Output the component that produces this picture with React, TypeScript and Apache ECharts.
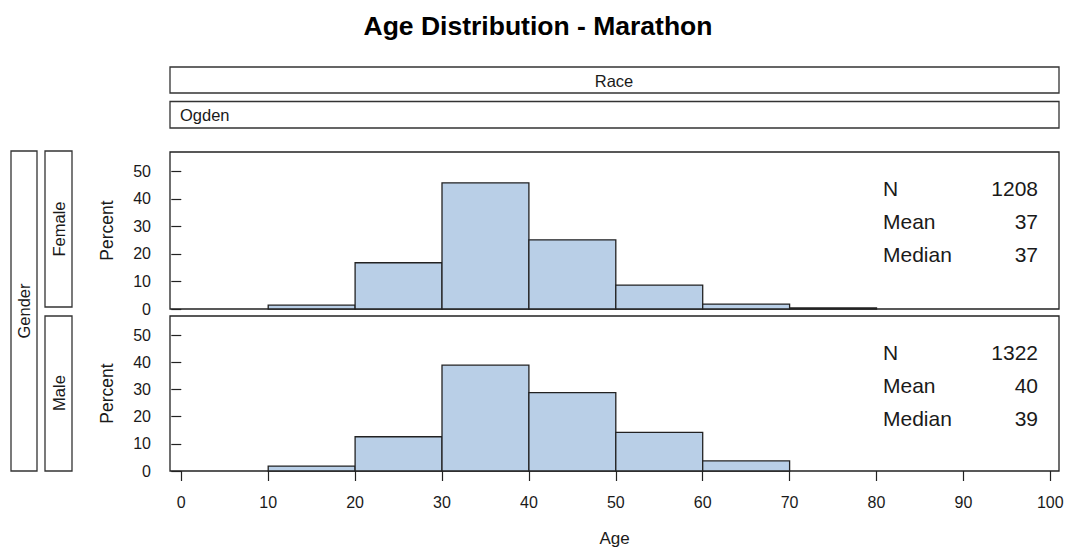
import React, { useEffect, useRef } from "react";
import * as echarts from "echarts";

const binStarts = [10, 20, 30, 40, 50, 60, 70];
const binEnds = [20, 30, 40, 50, 60, 70, 80];
const femalePercent = [1.4, 16.8, 45.8, 25.1, 8.7, 1.8, 0.4];
const malePercent = [1.8, 12.6, 38.9, 28.8, 14.2, 3.7, 0];
const xTicks = [0, 10, 20, 30, 40, 50, 60, 70, 80, 90, 100];
const yTicks = [0, 10, 20, 30, 40, 50];
const statLabels = ["N", "Mean", "Median"];
const femaleStats = ["1208", "37", "37"];
const maleStats = ["1322", "40", "39"];
const rowLabels = ["Female", "Male"];

const FONT = "Liberation Sans, Arial, sans-serif";
const TXT = "#1a1a1a";
const FILL = "#B9CFE7";

function histData(vals: number[]) {
  return vals.map((v, i) => [binStarts[i], binEnds[i], v]);
}

const renderItem = (params: any, api: any) => {
  const x0 = api.value(0);
  const x1 = api.value(1);
  const v = api.value(2);
  if (!v) return null;
  const p0 = api.coord([x0, v]);
  const p1 = api.coord([x1, 0]);
  return {
    type: "rect",
    shape: { x: p0[0], y: p0[1], width: p1[0] - p0[0], height: p1[1] - p0[1] },
    style: { fill: FILL, stroke: "#222", lineWidth: 1.3 },
  };
};

export default function App() {
  const ref = useRef<HTMLDivElement>(null);
  useEffect(() => {
    const chart = echarts.init(ref.current!, null, { renderer: "svg" });
    const grids = [
      { left: 170, top: 152, width: 889, height: 157 },
      { left: 170, top: 316, width: 889, height: 155 },
    ].map((g) => ({
      ...g,
      show: true,
      containLabel: false,
      outerBoundsMode: "none",
      borderColor: "#222",
      borderWidth: 1.3,
      backgroundColor: "transparent",
    }));

    const xAxes = [0, 1].map((i) => ({
      type: "value",
      gridIndex: i,
      min: -1.3,
      max: 101,
      splitLine: { show: false },
      axisLine: { show: false },
      axisTick: i === 1 ? { show: true, inside: false, length: 10, customValues: xTicks, lineStyle: { color: "#222", width: 1.2 } } : { show: false },
      axisLabel: i === 1 ? { show: true, customValues: xTicks, margin: 23, fontSize: 16, color: TXT, fontFamily: FONT } : { show: false },
      name: i === 1 ? "Age" : "",
      nameLocation: "middle",
      nameGap: 59,
      nameTextStyle: { fontSize: 17, color: TXT, fontFamily: FONT },
    }));
    const yAxes = [0, 1].map((i) => ({
      type: "value",
      gridIndex: i,
      min: 0,
      max: 57,
      splitLine: { show: false },
      axisLine: { show: false },
      axisTick: { show: true, inside: false, length: 10, customValues: yTicks, lineStyle: { color: "#222", width: 1.2 } },
      axisLabel: { show: true, customValues: yTicks, margin: 19, fontSize: 16, color: TXT, fontFamily: FONT },
      name: "Percent",
      nameLocation: "middle",
      nameGap: 54,
      nameRotate: 90,
      nameTextStyle: { fontSize: 17.5, color: TXT, fontFamily: FONT },
    }));

    const stripStyle = { fill: "#fff", stroke: "#333", lineWidth: 1.3 };
    const stripText = { fontSize: 16.5, fontFamily: FONT, fill: TXT, verticalAlign: "middle" };
    const graphics: any[] = [
      { type: "rect", shape: { x: 170, y: 67, width: 889, height: 26 }, style: stripStyle },
      { type: "text", x: 614, y: 81, style: { ...stripText, text: "Race", align: "center" } },
      { type: "rect", shape: { x: 170, y: 101.5, width: 889, height: 26.5 }, style: stripStyle },
      { type: "text", x: 180, y: 115, style: { ...stripText, text: "Ogden", align: "left" } },
      { type: "rect", shape: { x: 11, y: 151, width: 26, height: 320 }, style: stripStyle },
      { type: "text", x: 24, y: 311, rotation: Math.PI / 2, style: { ...stripText, text: "Gender", align: "center" } },
      { type: "rect", shape: { x: 45, y: 151, width: 27, height: 156 }, style: stripStyle },
      { type: "text", x: 58.5, y: 229, rotation: Math.PI / 2, style: { ...stripText, text: rowLabels[0], align: "center" } },
      { type: "rect", shape: { x: 45, y: 316, width: 27, height: 155 }, style: stripStyle },
      { type: "text", x: 58.5, y: 393, rotation: Math.PI / 2, style: { ...stripText, text: rowLabels[1], align: "center" } },
    ];
    const statsBlocks = [
      { ys: [188, 221.5, 254.5], vals: femaleStats },
      { ys: [352, 385.5, 418.5], vals: maleStats },
    ];
    statsBlocks.forEach((b) => {
      statLabels.forEach((lab, k) => {
        graphics.push({ type: "text", x: 883, y: b.ys[k], style: { text: lab, fontSize: 21, fontFamily: FONT, fill: TXT, align: "left", verticalAlign: "middle" } });
        graphics.push({ type: "text", x: 1038, y: b.ys[k], style: { text: b.vals[k], fontSize: 21, fontFamily: FONT, fill: TXT, align: "right", verticalAlign: "middle" } });
      });
    });

    chart.setOption({
      animation: false,
      backgroundColor: "#fff",
      title: {
        text: "Age Distribution - Marathon",
        left: 533,
        top: 7,
        textAlign: "center",
        textStyle: { fontSize: 26.5, fontWeight: "bold", color: "#000", fontFamily: FONT },
      },
      grid: grids,
      xAxis: xAxes,
      yAxis: yAxes,
      series: [
        { type: "custom", xAxisIndex: 0, yAxisIndex: 0, renderItem, encode: { x: [0, 1], y: 2 }, data: histData(femalePercent) },
        { type: "custom", xAxisIndex: 1, yAxisIndex: 1, renderItem, encode: { x: [0, 1], y: 2 }, data: histData(malePercent) },
      ],
      graphic: graphics,
    });
    return () => chart.dispose();
  }, []);
  return <div ref={ref} style={{ position: "fixed", left: 0, top: 0, width: 1067, height: 548 }} />;
}
